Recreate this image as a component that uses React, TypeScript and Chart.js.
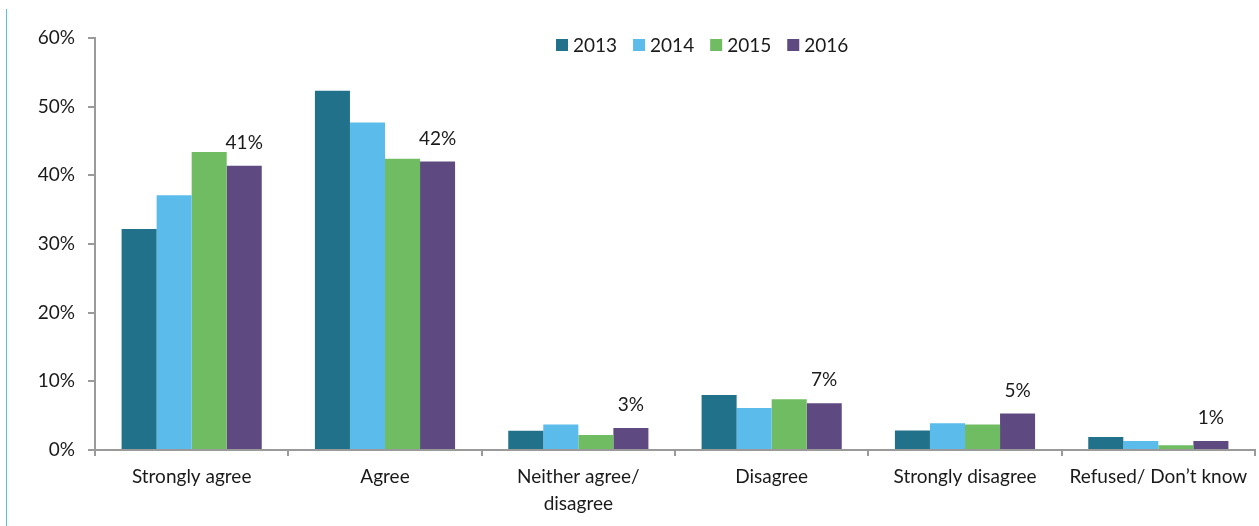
import React, { useEffect, useRef } from "react";
import { Chart, registerables } from "chart.js";

Chart.register(...registerables);

const categories: (string | string[])[] = [
  "Strongly agree",
  "Agree",
  ["Neither agree/", "disagree"],
  "Disagree",
  "Strongly disagree",
  "Refused/ Don\u2019t know",
];
const years = ["2013", "2014", "2015", "2016"];
const values2013 = [32.2, 52.3, 2.8, 8.0, 2.85, 1.9];
const values2014 = [37.1, 47.7, 3.7, 6.1, 3.9, 1.3];
const values2015 = [43.4, 42.4, 2.2, 7.4, 3.7, 0.7];
const values2016 = [41.4, 42.0, 3.2, 6.8, 5.3, 1.3];
const labels2016 = ["41%", "42%", "3%", "7%", "5%", "1%"];
const yTicks = [0, 10, 20, 30, 40, 50, 60];
const colors = ["#22718a", "#5bbbeb", "#70bc62", "#5e4a80"];

const FONT = "Lato, 'Open Sans', sans-serif";
const FS = 19;

const overlayPlugin = {
  id: "overlay",
  afterDatasetsDraw(chart: any) {
    const ctx = chart.ctx;
    ctx.save();
    // data labels for last series
    const meta = chart.getDatasetMeta(3);
    ctx.font = `${FS}px ${FONT}`;
    ctx.fillStyle = "#1a1a1a";
    ctx.textAlign = "center";
    ctx.textBaseline = "alphabetic";
    meta.data.forEach((el: any, i: number) => {
      ctx.fillText(labels2016[i], el.x, el.y - 17);
    });
    // legend
    const area = chart.chartArea;
    let x = area.left + 461;
    const y = area.top;
    ctx.textAlign = "left";
    ctx.textBaseline = "alphabetic";
    chart.data.datasets.forEach((ds: any) => {
      ctx.fillStyle = ds.backgroundColor;
      ctx.fillRect(x, y + 1, 12, 12);
      ctx.fillStyle = "#1a1a1a";
      ctx.fillText(ds.label, x + 17, y + 14);
      const w = ctx.measureText(ds.label).width;
      x += 17 + w + 16;
    });
    ctx.restore();
  },
};

export default function App() {
  const ref = useRef<HTMLCanvasElement>(null);
  useEffect(() => {
    const series = [values2013, values2014, values2015, values2016];
    const chart = new Chart(ref.current!, {
      type: "bar",
      data: {
        labels: categories,
        datasets: years.map((y, i) => ({
          label: y,
          data: series[i],
          backgroundColor: colors[i],
          borderWidth: 0,
          categoryPercentage: 0.725,
          barPercentage: 1,
        })),
      },
      options: {
        animation: false,
        responsive: false,
        maintainAspectRatio: false,
        layout: { padding: { left: 0, right: 4, top: 38, bottom: 0 } },
        plugins: {
          legend: { display: false },
          tooltip: { enabled: false },
        },
        scales: {
          x: {
            grid: {
              display: true,
              drawOnChartArea: false,
              drawTicks: true,
              tickLength: 6,
              color: "#9a9a9a",
              lineWidth: 2,
              offset: true,
            },
            border: { display: true, color: "#9a9a9a", width: 2 },
            ticks: {
              color: "#1a1a1a",
              font: { family: FONT, size: FS, lineHeight: 1.4 },
              padding: 8,
              maxRotation: 0,
              autoSkip: false,
            },
            afterFit: (s: any) => {
              s.height = 76;
            },
          },
          y: {
            min: 0,
            max: 60,
            afterBuildTicks: (s: any) => {
              s.ticks = yTicks.map((v) => ({ value: v }));
            },
            grid: {
              display: true,
              drawOnChartArea: false,
              drawTicks: true,
              tickLength: 7,
              color: "#9a9a9a",
              lineWidth: 2,
            },
            border: { display: true, color: "#9a9a9a", width: 2 },
            ticks: {
              color: "#1a1a1a",
              font: { family: FONT, size: FS },
              padding: 13,
              callback: (v: any) => `${v}%`,
            },
            afterFit: (s: any) => {
              s.width = 95;
            },
          },
        },
      },
      plugins: [overlayPlugin],
    });
    return () => chart.destroy();
  }, []);
  return (
    <div style={{ position: "absolute", left: 0, top: 0, width: 1259, height: 526, background: "#fff" }}>
      <div style={{ position: "absolute", left: 6, top: 9, width: 1, height: 517, background: "#5bbcec" }} />
      <canvas ref={ref} width={1259} height={526} style={{ position: "absolute", left: 0, top: 0 }} />
    </div>
  );
}
